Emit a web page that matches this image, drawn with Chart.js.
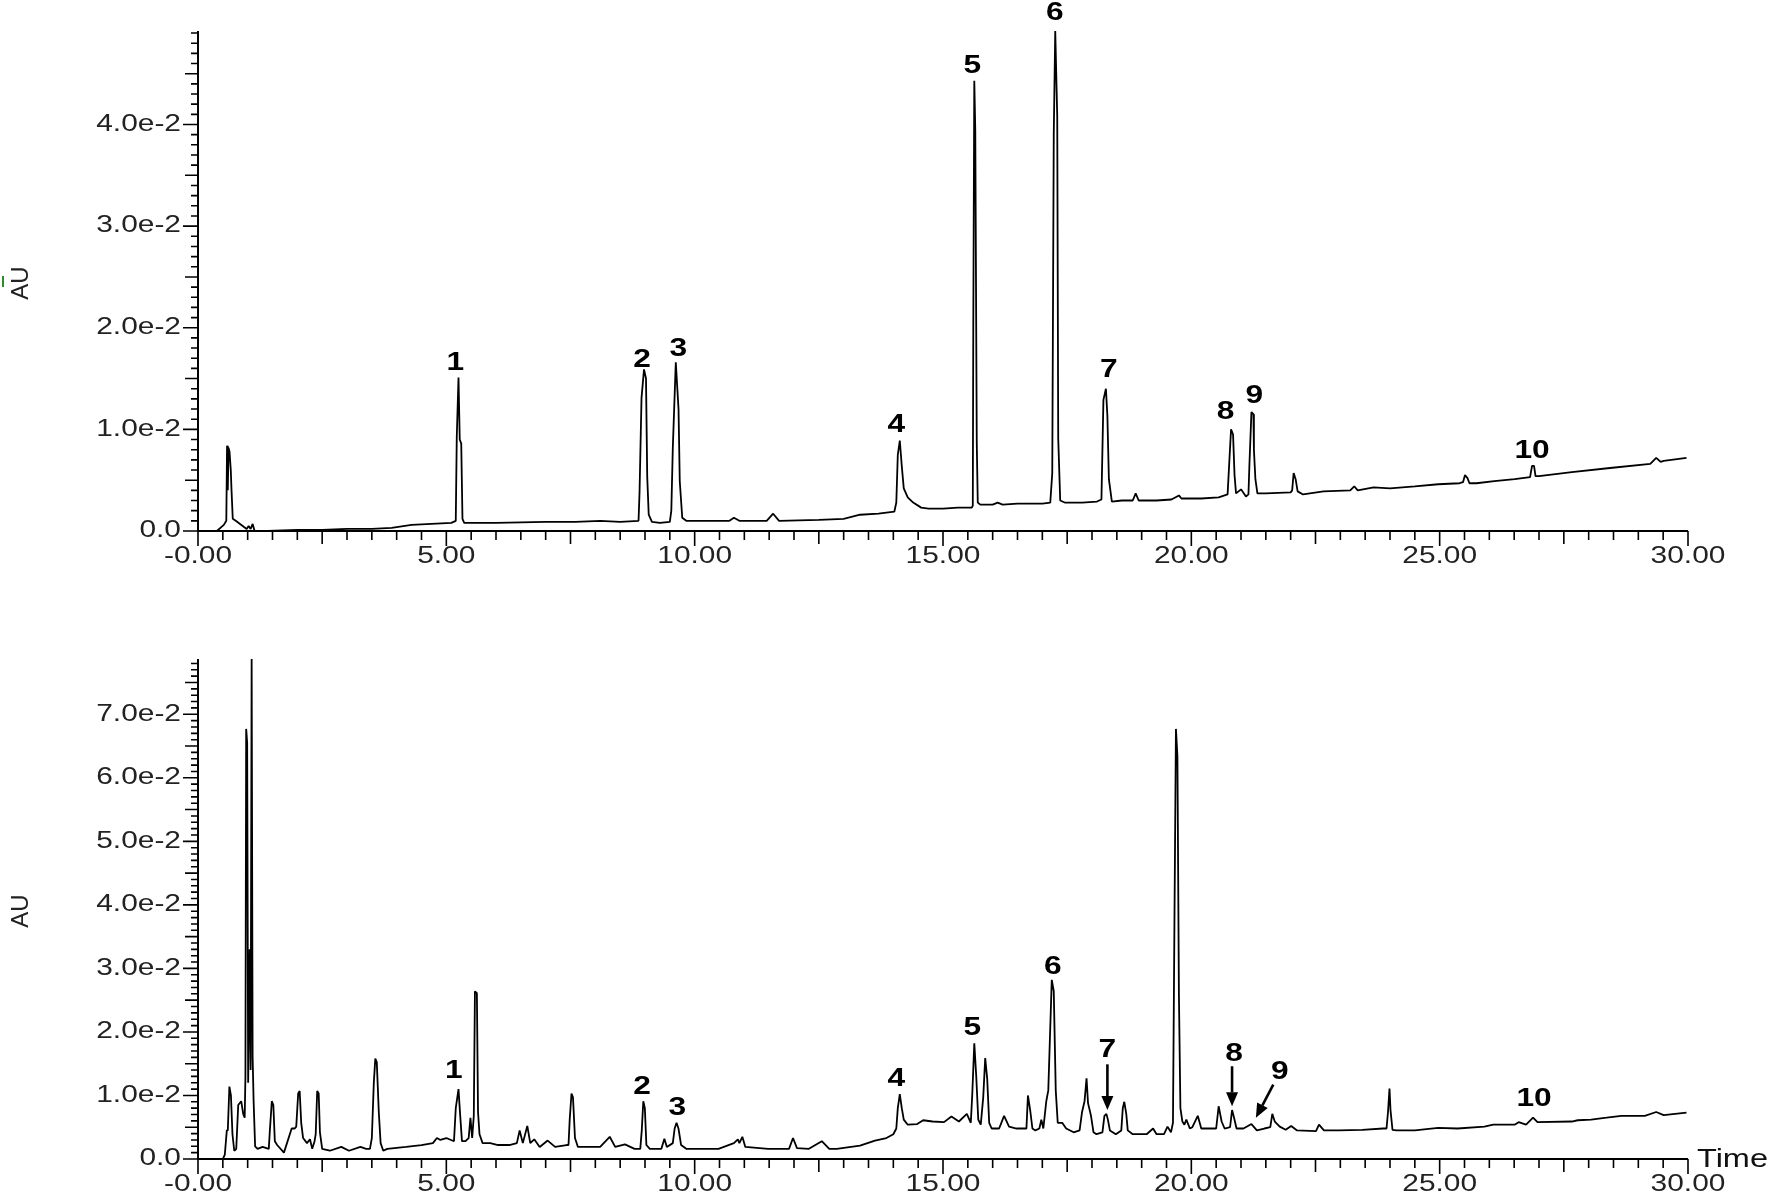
<!DOCTYPE html>
<html>
<head>
<meta charset="utf-8">
<script src="https://cdn.jsdelivr.net/npm/chart.js@4.4.1/dist/chart.umd.min.js"></script>
<style>
  body { margin: 0; background: #fff; }
  #wrap { position: relative; width: 1772px; height: 1196px; }
  canvas { position: absolute; left: 0; display: block; }
  #topChart { top: 0; }
  #botChart { top: 600px; }
</style>
</head>
<body>
<div id="wrap">
  <canvas id="topChart" width="1772" height="600"></canvas>
  <canvas id="botChart" width="1772" height="596"></canvas>
</div>
<script>
// standard chromatogram (top), retention time in min / absorbance in AU
const topTime = [0.00, 0.38, 0.52, 0.57, 0.585, 0.60, 0.615, 0.635, 0.66, 0.675, 0.70, 0.76, 0.98, 1.02, 1.06, 1.10, 1.14, 1.40,
  2.00, 2.50, 3.00, 3.50, 3.90, 4.30, 4.70, 5.10, 5.19, 5.21, 5.245, 5.27, 5.30, 5.325, 5.36,
  6.00, 7.00, 7.60, 8.10, 8.50, 8.87, 8.89, 8.93, 8.98, 9.02, 9.045, 9.075, 9.14, 9.30,
  9.50, 9.53, 9.56, 9.62, 9.675, 9.70, 9.75, 9.83, 10.30, 10.70, 10.79, 10.90, 11.45, 11.58, 11.70,
  12.50, 13.00, 13.33, 13.70, 14.02, 14.06, 14.09, 14.13, 14.17, 14.21, 14.29, 14.40, 14.56, 14.71,
  15.00, 15.30, 15.58, 15.60, 15.61, 15.63, 15.65, 15.68, 15.70, 15.75, 16.00, 16.10, 16.20, 16.50, 17.00, 17.16,
  17.20, 17.23, 17.26, 17.30, 17.32, 17.36, 17.45, 17.80, 18.10, 18.19, 18.23, 18.28, 18.31, 18.34, 18.40,
  18.60, 18.82, 18.88, 18.94, 19.30, 19.60, 19.75, 19.80, 20.20, 20.55, 20.73, 20.77, 20.80, 20.84, 20.87, 20.90,
  21.00, 21.10, 21.15, 21.17, 21.21, 21.25, 21.26, 21.29, 21.33, 21.50, 22.00, 22.03, 22.06, 22.10, 22.14, 22.25,
  22.66, 23.20, 23.28, 23.35, 23.67, 24.00, 24.50, 24.97, 25.40, 25.47, 25.51, 25.56, 25.60, 25.74, 26.10,
  26.51, 26.82, 26.86, 26.90, 26.93, 27.00, 27.66, 28.43, 29.24, 29.36, 29.45, 29.51, 29.97];
const topAU = [0, 0, 0.0006, 0.0010, 0.0084, 0.0040, 0.0082, 0.0078, 0.0060, 0.0040, 0.0012, 0.0010, 0.0002, 0.0005, 0.0002, 0.0007, 0, 0,
  0.0001, 0.0001, 0.0002, 0.0002, 0.0003, 0.0006, 0.0007, 0.0008, 0.0010, 0.0092, 0.0151, 0.0090, 0.0086, 0.0012, 0.0008,
  0.0008, 0.0009, 0.0009, 0.0010, 0.0009, 0.0010, 0.0038, 0.0131, 0.0159, 0.0150, 0.0053, 0.0016, 0.0009, 0.0008,
  0.0009, 0.0020, 0.0082, 0.0166, 0.0120, 0.0049, 0.0013, 0.0010, 0.0010, 0.0010, 0.0013, 0.0010, 0.0010, 0.0017, 0.0010,
  0.0011, 0.0012, 0.0016, 0.0017, 0.0019, 0.0028, 0.0075, 0.0089, 0.0064, 0.0042, 0.0033, 0.0028, 0.0023, 0.0022,
  0.0022, 0.0023, 0.0023, 0.0025, 0.0202, 0.0443, 0.0394, 0.0086, 0.0028, 0.0026, 0.0026, 0.0028, 0.0026, 0.0027, 0.0027, 0.0028,
  0.0057, 0.0390, 0.0492, 0.0408, 0.0091, 0.0030, 0.0028, 0.0028, 0.0029, 0.0031, 0.0129, 0.0140, 0.0113, 0.0051, 0.0029,
  0.0030, 0.0030, 0.0037, 0.0030, 0.0030, 0.0031, 0.0035, 0.0032, 0.0032, 0.0033, 0.0036, 0.0073, 0.0100, 0.0095, 0.0055, 0.0037,
  0.0041, 0.0034, 0.0036, 0.0066, 0.0117, 0.0115, 0.0080, 0.0051, 0.0037, 0.0037, 0.0038, 0.0040, 0.0057, 0.0051, 0.0039, 0.0036,
  0.0039, 0.0040, 0.0044, 0.0040, 0.0043, 0.0042, 0.0044, 0.0046, 0.0047, 0.0048, 0.0055, 0.0052, 0.0047, 0.0047, 0.0049,
  0.0051, 0.0053, 0.0064, 0.0064, 0.0054, 0.0054, 0.0058, 0.0062, 0.0066, 0.0072, 0.0068, 0.0069, 0.0072];

// sample chromatogram (bottom)
const botTime = [0.00, 0.50, 0.54, 0.58, 0.60, 0.632, 0.663, 0.694, 0.73, 0.77, 0.81, 0.87, 0.91, 0.94, 0.955, 0.97, 0.99,
  1.01, 1.04, 1.06, 1.08, 1.10, 1.12, 1.15, 1.20, 1.30, 1.425, 1.447, 1.486, 1.517, 1.547, 1.594, 1.73, 1.886, 1.947,
  1.978, 2.017, 2.047, 2.078, 2.116, 2.194, 2.255, 2.30, 2.347, 2.37, 2.40, 2.43, 2.455, 2.50, 2.655, 2.885, 3.04, 3.27,
  3.385, 3.462, 3.50, 3.54, 3.57, 3.60, 3.64, 3.677, 3.73, 3.81, 4.19, 4.50, 4.73, 4.81, 4.88, 5.00, 5.154, 5.19, 5.245,
  5.277, 5.315, 5.385, 5.45, 5.485, 5.52, 5.553, 5.576, 5.615, 5.638, 5.668, 5.73, 5.885, 6.04, 6.27, 6.42, 6.476, 6.54,
  6.63, 6.69, 6.77, 6.88, 7.04, 7.19, 7.42, 7.46, 7.484, 7.52, 7.55, 7.59, 7.65, 8.097, 8.29, 8.40, 8.597, 8.79, 8.905,
  8.935, 8.966, 8.997, 9.028, 9.097, 9.33, 9.39, 9.44, 9.56, 9.597, 9.635, 9.674, 9.727, 9.83, 10.17, 10.48, 10.79, 10.87,
  10.90, 10.96, 11.02, 11.48, 11.90, 11.98, 12.06, 12.30, 12.56, 12.71, 12.86, 13.33, 13.63, 13.86, 14.00, 14.06, 14.09,
  14.13, 14.17, 14.21, 14.29, 14.48, 14.60, 14.79, 15.02, 15.17, 15.32, 15.48, 15.56, 15.59, 15.63, 15.67, 15.71, 15.76,
  15.81, 15.85, 15.89, 15.93, 15.98, 16.13, 16.23, 16.33, 16.48, 16.63, 16.68, 16.71, 16.76, 16.80, 16.86, 16.94, 16.98,
  17.02, 17.08, 17.12, 17.15, 17.19, 17.23, 17.27, 17.31, 17.40, 17.48, 17.63, 17.75, 17.80, 17.85, 17.89, 17.92, 17.98,
  18.03, 18.09, 18.21, 18.25, 18.29, 18.32, 18.36, 18.48, 18.59, 18.62, 18.65, 18.69, 18.72, 18.82, 19.10, 19.23, 19.30,
  19.45, 19.52, 19.59, 19.63, 19.66, 19.69, 19.72, 19.75, 19.78, 19.82, 19.86, 19.90, 19.97, 20.02, 20.13, 20.20, 20.36,
  20.50, 20.55, 20.61, 20.67, 20.78, 20.82, 20.86, 20.91, 21.05, 21.21, 21.32, 21.47, 21.59, 21.63, 21.68, 21.78, 21.90,
  22.01, 22.13, 22.51, 22.57, 22.67, 22.97, 23.44, 23.86, 23.93, 23.96, 23.99, 24.01, 24.05, 24.13, 24.50, 24.97, 25.36,
  25.90, 26.08, 26.51, 26.59, 26.74, 26.88, 26.97, 27.66, 27.78, 28.05, 28.36, 28.66, 29.13, 29.36, 29.51, 29.97];
const botAU = [0, 0, 0.0007, 0.0045, 0.0045, 0.0114, 0.0100, 0.0039, 0.0013, 0.0016, 0.0085, 0.0091, 0.0071, 0.0065, 0.0130, 0.0677, 0.0655,
  0.0120, 0.0330, 0.0140, 0.0787, 0.0160, 0.0090, 0.0020, 0.0016, 0.0019, 0.0016, 0.0045, 0.0091, 0.0085, 0.0028, 0.0022, 0.0010, 0.0048, 0.0048,
  0.0051, 0.0103, 0.0107, 0.0057, 0.0033, 0.0025, 0.0031, 0.0016, 0.0028, 0.0039, 0.0107, 0.0103, 0.0042, 0.0016, 0.0013, 0.0019, 0.0013, 0.0019,
  0.0016, 0.0016, 0.0033, 0.0120, 0.0158, 0.0152, 0.0074, 0.0025, 0.0013, 0.0016, 0.0019, 0.0022, 0.0025, 0.0033, 0.0030, 0.0033, 0.0028, 0.0080, 0.0110,
  0.0071, 0.0028, 0.0028, 0.0033, 0.0065, 0.0033, 0.0068, 0.0264, 0.0261, 0.0074, 0.0039, 0.0025, 0.0025, 0.0022, 0.0022, 0.0025, 0.0045, 0.0025,
  0.0052, 0.0025, 0.0031, 0.0019, 0.0029, 0.0019, 0.0022, 0.0022, 0.0062, 0.0103, 0.0097, 0.0033, 0.0019, 0.0019, 0.0035, 0.0019, 0.0023, 0.0016, 0.0016,
  0.0045, 0.0091, 0.0080, 0.0022, 0.0016, 0.0016, 0.0032, 0.0019, 0.0025, 0.0048, 0.0057, 0.0048, 0.0022, 0.0016, 0.0016, 0.0016, 0.0025, 0.0031,
  0.0025, 0.0035, 0.0019, 0.0016, 0.0016, 0.0033, 0.0017, 0.0016, 0.0028, 0.0016, 0.0016, 0.0021, 0.0029, 0.0033, 0.0039, 0.0048, 0.0080,
  0.0102, 0.0080, 0.0062, 0.0054, 0.0055, 0.0061, 0.0059, 0.0058, 0.0067, 0.0059, 0.0071, 0.0057, 0.0103, 0.0182, 0.0129, 0.0062, 0.0054,
  0.0097, 0.0159, 0.0126, 0.0057, 0.0048, 0.0048, 0.0068, 0.0051, 0.0048, 0.0048, 0.0048, 0.0100, 0.0074, 0.0048, 0.0045, 0.0048, 0.0062,
  0.0048, 0.0091, 0.0108, 0.0183, 0.0282, 0.0264, 0.0108, 0.0057, 0.0057, 0.0048, 0.0042, 0.0045, 0.0074, 0.0091, 0.0127, 0.0088, 0.0068,
  0.0042, 0.0039, 0.0042, 0.0068, 0.0071, 0.0062, 0.0045, 0.0039, 0.0045, 0.0080, 0.0090, 0.0071, 0.0045, 0.0039, 0.0039, 0.0048, 0.0039,
  0.0039, 0.0051, 0.0042, 0.0057, 0.0374, 0.0677, 0.0634, 0.0259, 0.0080, 0.0059, 0.0054, 0.0062, 0.0048, 0.0050, 0.0068, 0.0048, 0.0048,
  0.0048, 0.0083, 0.0059, 0.0048, 0.0050, 0.0077, 0.0065, 0.0048, 0.0048, 0.0055, 0.0045, 0.0048, 0.0050, 0.0071, 0.0059, 0.0051, 0.0046,
  0.0052, 0.0045, 0.0044, 0.0054, 0.0045, 0.0045, 0.0046, 0.0048, 0.0048, 0.0074, 0.0111, 0.0077, 0.0046, 0.0045, 0.0045, 0.0049, 0.0048,
  0.0051, 0.0054, 0.0054, 0.0058, 0.0054, 0.0065, 0.0058, 0.0059, 0.0061, 0.0062, 0.0065, 0.0068, 0.0068, 0.0074, 0.0069, 0.0073];

// peak numbers (label centre in data coordinates)
const peakNames = ['1', '2', '3', '4', '5', '6', '7', '8', '9', '10'];
const topLabelTime = [5.18, 8.94, 9.67, 14.06, 15.59, 17.25, 18.34, 20.69, 21.27, 26.86];
const topLabelAU = [0.0165, 0.0168, 0.0179, 0.0104, 0.0458, 0.0510, 0.0159, 0.0117, 0.0133, 0.0079];
const botLabelTime = [5.15, 8.94, 9.65, 14.06, 15.59, 17.21, 18.31, 20.86, 21.78, 26.90];
const botLabelAU = [0.0138, 0.0114, 0.0080, 0.0126, 0.0207, 0.0302, 0.0172, 0.0166, 0.0137, 0.0094];
// arrows in the sample trace: [time, AU] tail -> head
const botArrowFrom = [[18.31, 0.0149], [20.82, 0.0146], [21.65, 0.0117]];
const botArrowTo = [[18.31, 0.0077], [20.82, 0.0083], [21.30, 0.0065]];

const timeMax = 30;
const topMax = 0.0492;
const botMax = 0.0787;

const FONT = '"Liberation Sans", Arial, sans-serif';
const STRETCH = 1.3; // reference text is wider than Arial

function wideText(ctx, txt, x, y, font, align, sx) {
  ctx.save();
  ctx.translate(x, y);
  ctx.scale(sx, 1);
  ctx.font = font;
  ctx.textAlign = align;
  ctx.textBaseline = 'middle';
  ctx.fillText(txt, 0, 0);
  ctx.restore();
}

function yTickText(v) {
  if (Math.abs(v) < 1e-9) return '0.0';
  return (Math.round(v * 1000) / 10).toFixed(1) + 'e-2';
}
function xTickText(v) {
  return v === 0 ? '-0.00' : v.toFixed(2);
}

const chromDecor = {
  id: 'chromDecor',
  afterDraw(chart, args, o) {
    const { ctx, chartArea: a, scales: { x, y } } = chart;
    ctx.save();
    // axes
    ctx.strokeStyle = '#000';
    ctx.lineWidth = 2;
    ctx.beginPath();
    ctx.moveTo(a.left, a.top);
    ctx.lineTo(a.left, a.bottom);
    ctx.lineTo(a.right, a.bottom);
    ctx.stroke();

    // tick marks
    ctx.lineWidth = 1.6;
    ctx.beginPath();
    const nY = Math.floor(y.max / 0.001 + 1e-6);
    for (let i = 0; i <= nY; i++) {
      const py = y.getPixelForValue(i * 0.001);
      const len = i % 10 === 0 ? 15 : (i % 5 === 0 ? 13 : 7);
      ctx.moveTo(a.left - len, py);
      ctx.lineTo(a.left, py);
    }
    for (let i = 0; i <= timeMax * 2; i++) {
      const px = x.getPixelForValue(i * 0.5);
      const len = i % 10 === 0 ? 15 : (i % 5 === 0 ? 13 : 9);
      ctx.moveTo(px, a.bottom);
      ctx.lineTo(px, a.bottom + len);
    }
    ctx.stroke();

    // tick labels
    ctx.fillStyle = '#222';
    const tf = '23px ' + FONT;
    y.ticks.forEach(t => wideText(ctx, yTickText(t.value), a.left - 17, y.getPixelForValue(t.value), tf, 'right', STRETCH));
    x.ticks.forEach(t => wideText(ctx, xTickText(t.value), x.getPixelForValue(t.value), a.bottom + 26, tf, 'center', STRETCH));

    // y title
    ctx.save();
    ctx.translate(21, (a.top + a.bottom) / 2 + 2);
    ctx.rotate(-Math.PI / 2);
    ctx.font = '24px ' + FONT;
    ctx.textAlign = 'center';
    ctx.textBaseline = 'middle';
    ctx.fillText('AU', 0, 0);
    if (o.mark) {
      ctx.fillStyle = '#2e8b2e';
      ctx.fillRect(-4, -19, 11, 2);
    }
    ctx.restore();

    if (o.time) {
      ctx.fillStyle = '#111';
      wideText(ctx, 'Time', a.right + 9, a.bottom + 1, '25px ' + FONT, 'left', STRETCH);
    }

    // peak numbers
    ctx.fillStyle = '#000';
    o.names.forEach((n, i) => {
      wideText(ctx, n, x.getPixelForValue(o.lt[i]), y.getPixelForValue(o.lv[i]), 'bold 26px ' + FONT, 'center', 1.22);
    });

    // arrows
    ctx.strokeStyle = '#000';
    ctx.lineWidth = 2.6;
    (o.from || []).forEach((f, i) => {
      const x1 = x.getPixelForValue(f[0]), y1 = y.getPixelForValue(f[1]);
      const x2 = x.getPixelForValue(o.to[i][0]), y2 = y.getPixelForValue(o.to[i][1]);
      const ang = Math.atan2(y2 - y1, x2 - x1);
      const hl = 14, hw = 6;
      const bx = x2 - hl * Math.cos(ang), by = y2 - hl * Math.sin(ang);
      ctx.beginPath();
      ctx.moveTo(x1, y1);
      ctx.lineTo(bx, by);
      ctx.stroke();
      ctx.beginPath();
      ctx.moveTo(x2, y2);
      ctx.lineTo(bx + hw * Math.sin(ang), by - hw * Math.cos(ang));
      ctx.lineTo(bx - hw * Math.sin(ang), by + hw * Math.cos(ang));
      ctx.closePath();
      ctx.fill();
    });
    ctx.restore();
  }
};

function chromChart(id, h, padTop, axisY, time, au, yMax, deco) {
  return new Chart(document.getElementById(id), {
    type: 'line',
    data: {
      datasets: [{
        data: time.map((t, i) => ({ x: t, y: au[i] })),
        borderColor: '#000',
        borderWidth: 1.8,
        borderJoinStyle: 'bevel',
        pointRadius: 0,
        tension: 0
      }]
    },
    options: {
      responsive: false,
      animation: false,
      events: [],
      layout: { autoPadding: false, padding: { top: padTop, right: 84, bottom: 0, left: 0 } },
      plugins: {
        legend: { display: false },
        tooltip: { enabled: false },
        chromDecor: deco
      },
      scales: {
        x: {
          type: 'linear', min: 0, max: timeMax,
          grid: { display: false, drawTicks: false },
          border: { display: false },
          ticks: { display: false, stepSize: 5 },
          afterFit(s) { s.height = h - axisY; }
        },
        y: {
          min: 0, max: yMax,
          grid: { display: false, drawTicks: false },
          border: { display: false },
          ticks: { display: false, stepSize: 0.01, includeBounds: false },
          afterFit(s) { s.width = 198; }
        }
      }
    },
    plugins: [chromDecor]
  });
}

chromChart('topChart', 600, 31, 531, topTime, topAU, topMax,
  { names: peakNames, lt: topLabelTime, lv: topLabelAU, mark: true, time: false });
chromChart('botChart', 596, 59, 559, botTime, botAU, botMax,
  { names: peakNames, lt: botLabelTime, lv: botLabelAU, from: botArrowFrom, to: botArrowTo, mark: false, time: true });
</script>
</body>
</html>
